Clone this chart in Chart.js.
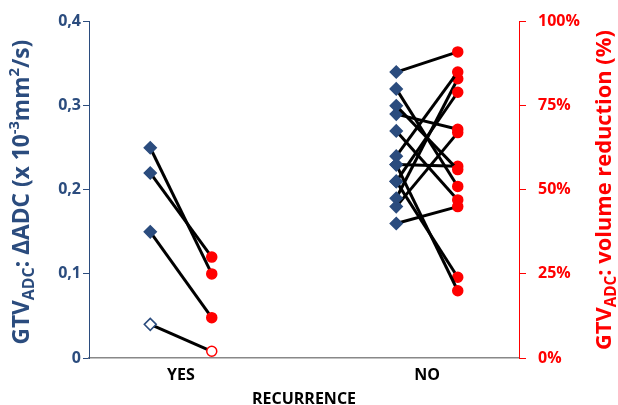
<!DOCTYPE html>
<html>
<head>
<meta charset="utf-8">
<script src="https://cdn.jsdelivr.net/npm/chart.js@4"></script>
<style>
  body { margin: 0; background: #fff; }
  #wrap { width: 618px; height: 405px; }
</style>
</head>
<body>
<div id="wrap"><canvas id="myChart"></canvas></div>
<script>
// data
var categories = ['YES', 'NO'];
var yesBefore = [0.25, 0.22, 0.15, 0.04];   // ΔADC (x10^-3 mm²/s)
var yesAfter = [25, 30, 12, 2];             // volume reduction (%)
var yesOpen = [false, false, false, true];
var noBefore = [0.34, 0.32, 0.30, 0.29, 0.27, 0.24, 0.23, 0.23, 0.21, 0.21, 0.19, 0.18, 0.16];
var noAfter = [91, 51, 56, 68, 47, 85, 57, 20, 24, 79, 83, 67, 45];
var leftTicks = [0, 0.1, 0.2, 0.3, 0.4];
var rightTicks = [0, 25, 50, 75, 100];

var blue = '#2B4C7E';
var red = '#FF0000';
var FONT = 'Open Sans';
var LEFT_MAX = 0.4;
var RIGHT_MAX = 100;
var SHIFT = 0.125;   // half gap between the two points of a pair

function pairSet(cat, before, after, open) {
    // right value is plotted on the left scale, the two axes share one range
    return {
        data: [
            { x: cat - SHIFT, y: before },
            { x: cat + SHIFT, y: after / RIGHT_MAX * LEFT_MAX }
        ],
        borderColor: '#000',
        borderWidth: 3,
        pointStyle: ['rectRot', 'circle'],
        pointRadius: [6, 5],
        pointBorderWidth: [1.5, 1.5],
        pointBorderColor: [blue, red],
        pointBackgroundColor: open ? ['#fff', '#fff'] : [blue, red],
        showLine: true
    };
}

var datasets = [];
yesBefore.forEach(function (v, i) { datasets.push(pairSet(0, v, yesAfter[i], yesOpen[i])); });
noBefore.forEach(function (v, i) { datasets.push(pairSet(1, v, noAfter[i], false)); });

// draws a title with sub/superscripts, scaled to a given length
function richText(ctx, parts, cx, cy, len, color) {
    var total = 0;
    parts.forEach(function (p) {
        ctx.font = 'bold ' + p.s + 'px "' + FONT + '"';
        total += ctx.measureText(p.t).width;
    });
    var k = len / total;
    var x = cx - len / 2;
    ctx.fillStyle = color;
    ctx.textBaseline = 'middle';
    ctx.textAlign = 'left';
    parts.forEach(function (p) {
        ctx.font = 'bold ' + (p.s * k) + 'px "' + FONT + '"';
        ctx.fillText(p.t, x, cy + (p.dy || 0) * k);
        x += ctx.measureText(p.t).width;
    });
}

var axisTitles = {
    id: 'axisTitles',
    afterDraw: function (chart) {
        var ctx = chart.ctx;
        ctx.save();
        ctx.translate(23, 192);
        ctx.rotate(-Math.PI / 2);
        richText(ctx, [
            { t: 'GTV', s: 20 },
            { t: 'ADC', s: 14, dy: 6 },
            { t: ': \u0394ADC (x 10', s: 20 },
            { t: '-3', s: 13, dy: -7 },
            { t: 'mm', s: 20 },
            { t: '2', s: 13, dy: -7 },
            { t: '/s)', s: 20 }
        ], 0, 0, 305, blue);
        ctx.restore();

        ctx.save();
        ctx.translate(605, 190);
        ctx.rotate(-Math.PI / 2);
        richText(ctx, [
            { t: 'GTV', s: 20 },
            { t: 'ADC', s: 14, dy: 6 },
            { t: ': volume reduction (%)', s: 20 }
        ], 0, 0, 320, red);
        ctx.restore();
    }
};

var ctx = document.getElementById('myChart').getContext('2d');
var myChart = new Chart(ctx, {
    type: 'scatter',
    data: { datasets: datasets },
    options: {
        responsive: true,
        maintainAspectRatio: false,
        animation: false,
        layout: { padding: { top: 20, left: 0, right: 0, bottom: 0 } },
        plugins: { legend: { display: false }, tooltip: { enabled: false } },
        scales: {
            x: {
                type: 'linear',
                min: -0.374,
                max: 1.374,
                afterBuildTicks: function (scale) {
                    scale.ticks = categories.map(function (c, i) { return { value: i }; });
                },
                afterFit: function (scale) { scale.height = 47; },
                grid: { display: false },
                border: { display: true, color: '#888', width: 1.5 },
                ticks: {
                    padding: 0,
                    color: '#000',
                    font: { family: FONT, weight: 'bold', size: 16 },
                    callback: function (v) { return categories[v]; }
                },
                title: {
                    display: true,
                    text: 'RECURRENCE',
                    color: '#000',
                    font: { family: FONT, weight: 'bold', size: 16 },
                    padding: { top: 0, bottom: -4 }
                }
            },
            y: {
                position: 'left',
                min: 0,
                max: LEFT_MAX,
                afterBuildTicks: function (scale) {
                    scale.ticks = leftTicks.map(function (v) { return { value: v }; });
                },
                afterFit: function (scale) { scale.width = 89; },
                grid: { drawOnChartArea: false, tickLength: 6, color: blue },
                border: { color: blue, width: 1 },
                ticks: {
                    padding: 2,
                    color: blue,
                    font: { family: FONT, weight: 'bold', size: 16 },
                    callback: function (v) { return v === 0 ? '0' : v.toFixed(1).replace('.', ','); }
                }
            },
            y2: {
                position: 'right',
                min: 0,
                max: RIGHT_MAX,
                afterBuildTicks: function (scale) {
                    scale.ticks = rightTicks.map(function (v) { return { value: v }; });
                },
                afterFit: function (scale) { scale.width = 99; },
                grid: { drawOnChartArea: false, tickLength: 7, color: red },
                border: { color: red, width: 1 },
                ticks: {
                    padding: 12,
                    color: red,
                    font: { family: FONT, weight: 'bold', size: 16 },
                    callback: function (v) { return v + '%'; }
                }
            }
        }
    },
    plugins: [axisTitles]
});
</script>
</body>
</html>
